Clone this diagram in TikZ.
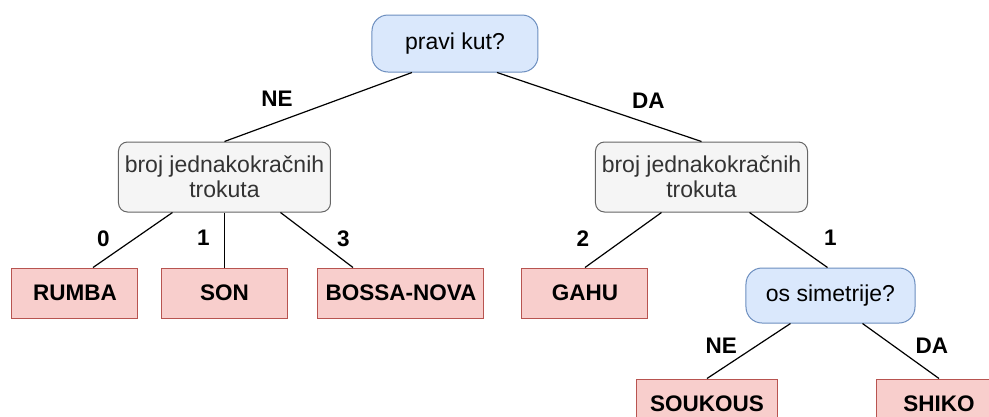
\documentclass[tikz,border=0pt]{standalone}
\usepackage{fontspec}
\setmainfont{Liberation Sans}
\usetikzlibrary{positioning}

\definecolor{qFill}{HTML}{DAE8FC}
\definecolor{qLine}{HTML}{6C8EBF}
\definecolor{cFill}{HTML}{F5F5F5}
\definecolor{cLine}{HTML}{666666}
\definecolor{cText}{HTML}{333333}
\definecolor{dFill}{HTML}{F8CECC}
\definecolor{dLine}{HTML}{B85450}

\begin{document}
\begin{tikzpicture}[on grid,
   font=\fontsize{23}{25}\selectfont,
   question/.style={draw=qLine,fill=qFill,line width=1pt,rounded corners=16pt,minimum height=57pt},
   count/.style={draw=cLine,fill=cFill,text=cText,line width=1pt,rounded corners=9pt,align=center,minimum width=212pt,minimum height=70pt},
   dance/.style={draw=dLine,fill=dFill,line width=1pt,font=\fontsize{22.5}{25}\selectfont\bfseries,minimum width=126pt,minimum height=50pt},
   lbl/.style={font=\fontsize{22.5}{25}\selectfont\bfseries,inner sep=0pt}]
   \clip (-455pt,43.5pt) rectangle (534pt,-372.5pt);
   \node[question, minimum width=166pt] (root) at (0,0) {pravi kut?};
   \node[count] (lq) [below left=133.5pt and 230.5pt of root] {broj jednakokračnih\\trokuta};
   \node[count] (rq) [below right=133.5pt and 246.5pt of root] {broj jednakokračnih\\trokuta};
   \node[dance] (rumba) [below left=116pt and 149.5pt of lq] {RUMBA};
   \node[dance] (son) [below=116pt of lq] {SON};
   \node[dance, minimum width=166pt] (bossa) [below right=116pt and 176.5pt of lq] {BOSSA-NOVA};
   \node[dance] (gahu) [below left=116pt and 116.5pt of rq] {GAHU};
   \node[question, minimum width=169pt, minimum height=55pt] (sym) [below right=118.5pt and 129pt of rq] {os simetrije?};
   \node[dance, minimum width=140pt] (soukous) [below left=108.5pt and 123.5pt of sym] {SOUKOUS};
   \node[dance] (shiko) [below right=108.5pt and 108.5pt of sym] {SHIKO};

   \path[line width=1.2pt]
    ([xshift=-43pt]root.south) edge node[lbl, pos=0.72, yshift=23pt] {NE} (lq.north)
    ([xshift=42pt]root.south) edge node[lbl, pos=0.74, yshift=23pt] {DA} (rq.north)
    ([xshift=-52pt]lq.south) edge node[lbl, pos=0.48, xshift=-31pt] {0} ([xshift=18pt]rumba.north)
    (lq.south) edge node[lbl, pos=0.46, xshift=-21pt] {1} (son.north)
    ([xshift=56pt]lq.south) edge node[lbl, pos=0.48, xshift=28pt] {3} ([xshift=-48pt]bossa.north)
    ([xshift=-40pt]rq.south) edge node[lbl, pos=0.48, xshift=-42pt] {2} (gahu.north)
    ([xshift=48pt]rq.south) edge node[lbl, pos=0.46, xshift=45pt] {1} ([xshift=-3pt]sym.north)
    ([xshift=-40pt]sym.south) edge node[lbl, pos=0.41, xshift=-35pt] {NE} (soukous.north)
    ([xshift=32pt]sym.south) edge node[lbl, pos=0.41, xshift=38pt] {DA} (shiko.north);
\end{tikzpicture}
\end{document}
